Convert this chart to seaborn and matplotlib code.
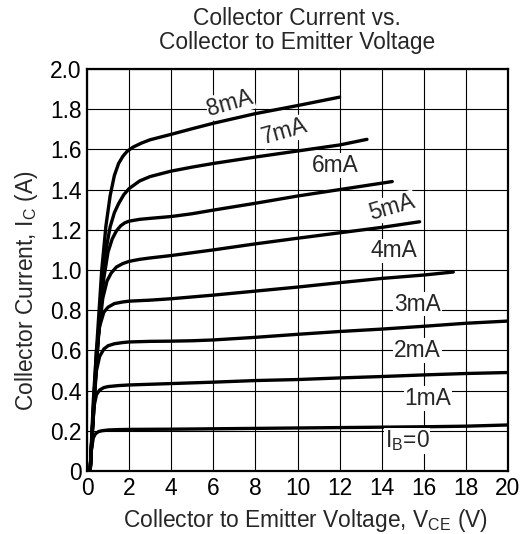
import matplotlib
matplotlib.use("Agg")
import matplotlib.pyplot as plt
import seaborn as sns
import pandas as pd

# ---- data ----
curve_names = ["1mA", "2mA", "3mA", "4mA", "5mA", "6mA", "7mA", "8mA"]

vce_1mA = [0.15, 0.2, 0.3, 0.4, 0.55, 0.7, 1.0, 1.5, 2, 4, 6, 8, 10, 12, 14, 16, 18, 20]
ic_1mA = [0, 0.1, 0.165, 0.185, 0.196, 0.2, 0.204, 0.206, 0.207, 0.208, 0.21, 0.212, 0.214, 0.216, 0.218, 0.22, 0.223, 0.229]

vce_2mA = [0.15, 0.25, 0.35, 0.45, 0.6, 0.8, 1.0, 1.5, 2, 4, 6, 8, 10, 12, 14, 16, 18, 20]
ic_2mA = [0, 0.2, 0.33, 0.38, 0.403, 0.415, 0.42, 0.425, 0.428, 0.435, 0.442, 0.45, 0.455, 0.463, 0.47, 0.478, 0.485, 0.49]

vce_3mA = [0.15, 0.3, 0.45, 0.6, 0.8, 1.0, 1.3, 1.7, 2, 3, 4, 5, 6, 8, 10, 12, 14, 16, 18, 20]
ic_3mA = [0, 0.3, 0.5, 0.57, 0.607, 0.623, 0.633, 0.639, 0.642, 0.645, 0.646, 0.648, 0.652, 0.665, 0.68, 0.694, 0.706, 0.72, 0.735, 0.746]

vce_4mA = [0.15, 0.3, 0.45, 0.6, 0.8, 1.0, 1.3, 1.7, 2, 3, 4, 6, 8, 10, 12, 14, 16, 17.4]
ic_4mA = [0, 0.35, 0.6, 0.72, 0.79, 0.815, 0.833, 0.841, 0.845, 0.85, 0.857, 0.875, 0.895, 0.915, 0.937, 0.958, 0.975, 0.99]

vce_5mA = [0.15, 0.35, 0.55, 0.75, 0.95, 1.15, 1.4, 1.7, 2, 2.5, 3, 4, 6, 8, 10, 12, 14, 15.8]
ic_5mA = [0, 0.4, 0.68, 0.86, 0.945, 0.985, 1.015, 1.032, 1.043, 1.053, 1.06, 1.072, 1.1, 1.13, 1.158, 1.185, 1.212, 1.24]

vce_6mA = [0.15, 0.4, 0.6, 0.8, 1.0, 1.2, 1.4, 1.6, 1.8, 2, 2.5, 3, 4, 5, 6, 8, 10, 12, 14, 14.5]
ic_6mA = [0, 0.45, 0.75, 0.96, 1.09, 1.155, 1.195, 1.22, 1.235, 1.243, 1.252, 1.257, 1.266, 1.28, 1.298, 1.332, 1.368, 1.4, 1.432, 1.44]

vce_7mA = [0.15, 0.45, 0.7, 0.9, 1.1, 1.3, 1.5, 1.75, 2, 2.5, 3, 4, 5, 6, 8, 10, 12, 13.3]
ic_7mA = [0, 0.55, 0.9, 1.1, 1.215, 1.285, 1.33, 1.375, 1.405, 1.443, 1.465, 1.492, 1.512, 1.53, 1.562, 1.592, 1.622, 1.65]

vce_8mA = [0.15, 0.45, 0.7, 0.9, 1.1, 1.3, 1.5, 1.7, 1.9, 2.2, 2.6, 3, 4, 5, 6, 8, 10, 12]
ic_8mA = [0, 0.6, 1.0, 1.22, 1.37, 1.47, 1.53, 1.565, 1.59, 1.612, 1.632, 1.648, 1.675, 1.703, 1.73, 1.778, 1.818, 1.86]

x_ticks = [0, 2, 4, 6, 8, 10, 12, 14, 16, 18, 20]
y_ticks = [0, 0.2, 0.4, 0.6, 0.8, 1.0, 1.2, 1.4, 1.6, 1.8, 2.0]
y_tick_labels = ["0", "0.2", "0.4", "0.6", "0.8", "1.0", "1.2", "1.4", "1.6", "1.8", "2.0"]

series = {
    "1mA": (vce_1mA, ic_1mA), "2mA": (vce_2mA, ic_2mA), "3mA": (vce_3mA, ic_3mA),
    "4mA": (vce_4mA, ic_4mA), "5mA": (vce_5mA, ic_5mA), "6mA": (vce_6mA, ic_6mA),
    "7mA": (vce_7mA, ic_7mA), "8mA": (vce_8mA, ic_8mA),
}
rows = []
for name in curve_names:
    xs, ys = series[name]
    for i, (xv, yv) in enumerate(zip(xs, ys)):
        rows.append({"curve": name, "order": i, "vce": xv, "ic": yv})
df = pd.DataFrame(rows)

# ---- styling ----
sns.set_theme(style="white")
plt.rcParams["font.family"] = ["Liberation Sans", "DejaVu Sans"]
plt.rcParams["mathtext.fontset"] = "custom"
plt.rcParams["mathtext.rm"] = "Liberation Sans"
plt.rcParams["mathtext.it"] = "Liberation Sans"

FS = 16.4

fig = plt.figure(figsize=(5.22, 5.34), dpi=100)
ax = fig.add_axes([87 / 522, 1 - 471 / 534, (508 - 87) / 522, (471 - 69) / 534])

sns.lineplot(data=df, x="vce", y="ic", units="curve", estimator=None, sort=False,
             color="black", linewidth=2.4, ax=ax, zorder=3)

ax.set_xlim(0, 20)
ax.set_ylim(0, 2.0)
ax.set_xticks(x_ticks)
ax.set_xticklabels([str(t) for t in x_ticks])
ax.set_yticks(y_ticks)
ax.set_yticklabels(y_tick_labels)
ax.tick_params(axis="both", length=0, labelsize=FS, colors="black")
ax.tick_params(axis="x", pad=4)
ax.tick_params(axis="y", pad=4)
ax.grid(True, color="black", linewidth=0.8, zorder=0)
ax.set_axisbelow(True)
for s in ax.spines.values():
    s.set_color("black")
    s.set_linewidth(1.6)
ax.set_xlabel("")
ax.set_ylabel("")

# curve labels
labels = [
    ("8mA", 6.8, 1.83, 16),
    ("7mA", 9.4, 1.69, 16),
    ("6mA", 11.8, 1.52, 0),
    ("5mA", 14.5, 1.31, 16),
    ("4mA", 14.6, 1.095, 0),
    ("3mA", 15.7, 0.83, 0),
    ("2mA", 15.7, 0.60, 0),
    ("1mA", 16.2, 0.36, 0),
    (r"I$_{\mathrm{B}}$=0", 15.2, 0.15, 0),
]
for txt, xv, yv, rot in labels:
    ax.text(xv, yv, txt, fontsize=FS, ha="center", va="center", rotation=rot,
            rotation_mode="anchor", zorder=4,
            bbox=dict(facecolor="white", edgecolor="none", pad=0.5))

fig.text(297 / 522, 1 - 7 / 534, "Collector Current vs.\nCollector to Emitter Voltage",
         fontsize=FS, ha="center", va="top", linespacing=1.05, multialignment="center")
fig.text(305 / 522, (534 - 527) / 534,
         r"Collector to Emitter Voltage, V$_{\mathrm{CE}}$ (V)",
         fontsize=FS, ha="center", va="baseline")
fig.text(27 / 522, 1 - 291 / 534, r"Collector Current, I$_{\mathrm{C}}$ (A)",
         fontsize=FS, ha="center", va="center", rotation=90)

fig.savefig("out.png", dpi=100)
